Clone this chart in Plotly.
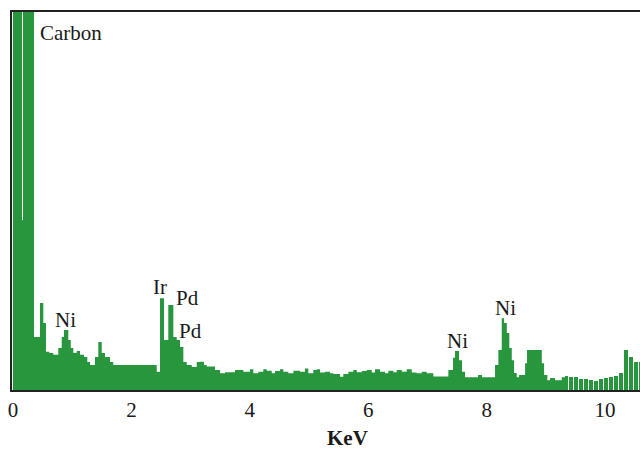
import plotly.graph_objects as go

# Spectrum (step profile), energy in KeV and intensity (arbitrary units, 100 = top of frame)
energy_kev = [0.000, 0.152, 0.169, 0.355, 0.456, 0.512, 0.557, 0.613, 0.681, 0.765,
              0.823, 0.861, 0.934, 0.975, 1.019, 1.076, 1.132, 1.199, 1.255, 1.301,
              1.385, 1.441, 1.498, 1.554, 1.639, 1.694, 2.427, 2.483, 2.551, 2.623,
              2.708, 2.765, 2.821, 2.877, 2.934, 3.019, 3.103, 3.159, 3.226, 3.272,
              3.412, 3.497, 3.581, 3.750, 3.890, 4.003, 4.059, 4.144, 4.228, 4.285,
              4.370, 4.426, 4.510, 4.566, 4.650, 4.735, 4.848, 4.932, 4.988, 5.073,
              5.130, 5.186, 5.270, 5.355, 5.410, 5.524, 5.579, 5.664, 5.748, 5.806,
              5.890, 5.975, 6.059, 6.115, 6.199, 6.284, 6.340, 6.424, 6.481, 6.566,
              6.650, 6.735, 6.819, 6.904, 6.988, 7.100, 7.353, 7.432, 7.466, 7.534,
              7.584, 7.635, 7.855, 7.922, 8.142, 8.198, 8.255, 8.294, 8.340, 8.383,
              8.424, 8.463, 8.508, 8.547, 8.649, 8.682, 8.931, 8.970, 9.025, 9.071,
              9.155, 9.269, 9.324, 9.375]
intensity = [130, 45, 130, 14.0, 23.0, 17.7, 10.1, 9.8, 9.3, 11.1,
             14.0, 15.9, 13.2, 11.1, 9.8, 10.3, 9.3, 8.7, 7.4, 6.6,
             8.7, 12.7, 9.8, 8.7, 7.4, 6.6, 4.8, 24.3, 13.2, 22.5,
             14.0, 13.2, 11.4, 7.4, 6.6, 6.1, 7.4, 7.5, 6.6, 6.2,
             5.3, 4.4, 4.7, 5.3, 4.8, 5.5, 4.4, 4.8, 5.5, 5.1,
             4.4, 5.0, 5.5, 4.8, 4.4, 5.1, 4.8, 5.7, 4.4, 5.3,
             5.5, 4.6, 4.8, 4.4, 4.2, 3.5, 4.2, 4.8, 5.3, 4.7,
             5.0, 5.3, 4.6, 5.5, 4.8, 4.4, 5.1, 4.7, 5.3, 4.8,
             5.5, 4.6, 4.4, 4.8, 4.4, 3.6, 5.3, 8.5, 10.3, 7.9,
             4.8, 3.4, 4.0, 3.4, 6.6, 10.6, 19.0, 17.7, 15.1, 11.1,
             7.9, 4.5, 3.4, 4.0, 7.1, 10.6, 7.1, 4.0, 2.6, 3.2,
             2.6, 3.4, 3.7, 3.7]

# High-energy channels drawn as separate bars
bar_kev = [9.417, 9.502, 9.586, 9.671, 9.755, 9.840, 9.924, 10.009, 10.093, 10.178,
           10.262, 10.347, 10.431, 10.516, 10.600]
bar_intensity = [3.4, 3.4, 2.9, 2.9, 2.6, 2.4, 2.9, 3.2, 3.4, 3.7,
                 4.5, 10.6, 8.7, 7.4, 7.4]

# Peak labels
label_text = ["Carbon", "Ni", "Ir", "Pd", "Pd", "Ni", "Ni"]
label_kev = [0.42, 0.88, 2.49, 2.94, 3.00, 7.50, 8.32]
label_y = [94.5, 18.5, 27.2, 24.3, 15.5, 13.0, 21.7]

tick_vals = [0, 2, 4, 6, 8, 10]
tick_text = ["0", "2", "4", "6", "8", "10"]

GREEN = "#27963c"
serif = "Liberation Serif"

fig = go.Figure()
fig.add_trace(go.Scatter(
    x=energy_kev, y=intensity, mode="lines", line=dict(shape="hv", width=0, color=GREEN),
    fill="tozeroy", fillcolor=GREEN, hoverinfo="skip", showlegend=False))
fig.add_trace(go.Bar(
    x=bar_kev, y=bar_intensity, width=0.0845 * 0.78, marker=dict(color=GREEN, line=dict(width=0)),
    showlegend=False, hoverinfo="skip"))

for t, xk, yv in zip(label_text, label_kev, label_y):
    fig.add_annotation(x=xk, y=yv, text=t, showarrow=False,
                       xanchor="left" if t == "Carbon" else "center", yanchor="middle",
                       font=dict(family=serif, size=21, color="#1a1a1a"))

fig.add_annotation(x=0.535, y=-0.128, xref="paper", yref="paper", text="<b>KeV</b>",
                   showarrow=False, xanchor="center", yanchor="middle",
                   font=dict(family=serif, size=21, color="#1a1a1a"))

fig.update_layout(
    width=640, height=449,
    margin=dict(l=12, r=0, t=12, b=59),
    paper_bgcolor="white", plot_bgcolor="white",
    bargap=0,
    font=dict(family=serif),
    xaxis=dict(range=[-0.017, 10.59], tickvals=tick_vals, ticktext=tick_text,
               showgrid=False, zeroline=False, showline=True, mirror=True,
               linecolor="#222222", linewidth=2, ticks="",
               tickfont=dict(family=serif, size=21, color="#1a1a1a")),
    yaxis=dict(range=[0, 100], showticklabels=False, showgrid=False, zeroline=False,
               showline=True, linecolor="#222222", linewidth=2, ticks=""),
)

fig.write_html("out.html", config={"displayModeBar": False},
               post_script="document.body.style.margin='0';document.body.style.overflow='hidden';")
